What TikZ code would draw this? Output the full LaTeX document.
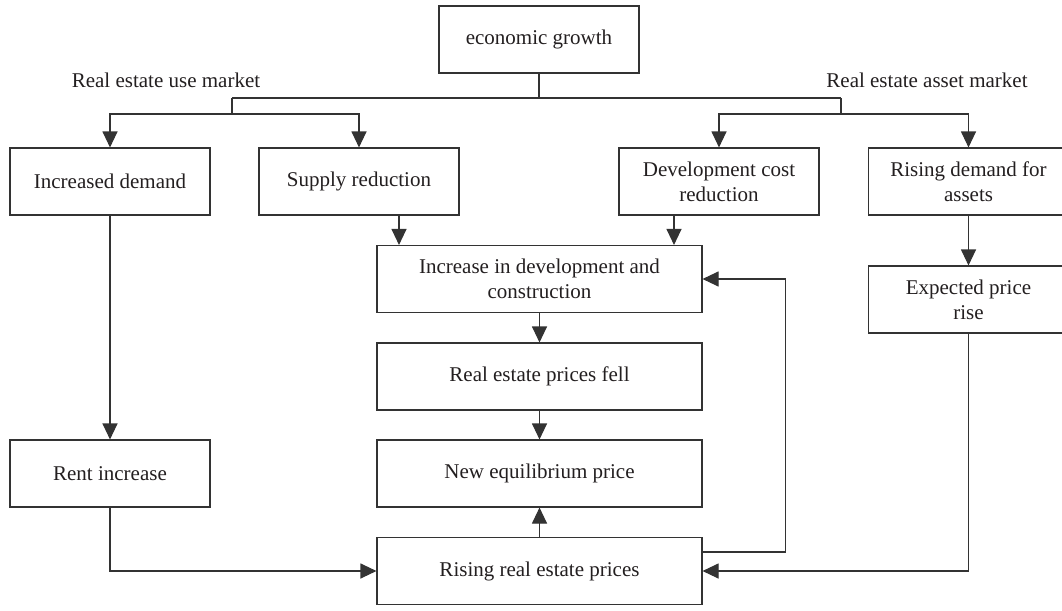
\documentclass[tikz,border=0pt]{standalone}
\usepackage{fontspec}
\setmainfont{Liberation Serif}
\usetikzlibrary{arrows.meta}
\definecolor{linec}{HTML}{333333}
\definecolor{textc}{HTML}{231F20}
\tikzset{
  box/.style={draw=linec, line width=1.1pt, rectangle, inner sep=0pt, minimum width=200pt, minimum height=67pt,
    align=center, text=textc, font=\fontsize{21}{25}\selectfont},
  widebox/.style={box, minimum width=325pt},
  conn/.style={draw=linec, line width=1.1pt},
  arr/.style={conn, -{Triangle[length=16pt,width=15pt]}},
  lbl/.style={text=textc, font=\fontsize{21}{25}\selectfont, inner sep=0pt}
}
\begin{document}
\begin{tikzpicture}[x=1pt,y=-1pt]
\useasboundingbox (0,0) rectangle (1062,610);
\fill[white] (0,0) rectangle (1062,610);
% nodes
\node[box] (econ) at (539,39.5) {economic growth};
\node[lbl] (useL) at (166,80) {Real estate use market};
\node[lbl] (assetL) at (927,80) {Real estate asset market};
\node[box] (idem) at (110,181.5) {Increased demand};
\node[box] (supp) at (359,181.5) {Supply reduction};
\node[box] (dev) at (719,181.5) {Development cost\\reduction};
\node[box] (rda) at (968.5,181.5) {Rising demand for\\assets};
\node[widebox] (inc) at (539.5,279) {Increase in development and\\construction};
\node[widebox] (fell) at (539.5,376.5) {Real estate prices fell};
\node[widebox] (neq) at (539.5,473.5) {New equilibrium price};
\node[widebox] (ris) at (539.5,571) {Rising real estate prices};
\node[box] (rent) at (110,473.5) {Rent increase};
\node[box] (exp) at (968.5,299.5) {Expected price\\rise};
% junctions
\coordinate (jL) at (232,98);
\coordinate (jR) at (841,98);
\coordinate (bL) at (232,114);
\coordinate (bR) at (841,114);
% connectors
\draw[conn] (econ.south) -- (econ.south |- jL);
\draw[conn] (jL) -- (jR);
\draw[conn] (jL) -- (bL);
\draw[conn] (jR) -- (bR);
\draw[arr] (bL) -| (idem.north);
\draw[arr] (bL) -| (supp.north);
\draw[arr] (bR) -| (dev.north);
\draw[arr] (bR) -| (rda.north);
\draw[arr] (idem.south) -- (rent.north);
\draw[arr] (rda.south) -- (exp.north);
\draw[arr] ([xshift=40pt]supp.south) -- ([xshift=40pt]supp.south |- inc.north);
\draw[arr] ([xshift=-45pt]dev.south) -- ([xshift=-45pt]dev.south |- inc.north);
\draw[arr] (inc.south) -- (fell.north);
\draw[arr] (fell.south) -- (neq.north);
\draw[arr] (ris.north) -- (neq.south);
\draw[arr] (rent.south) |- (ris.west);
\draw[arr] (exp.south) |- (ris.east);
\draw[arr] ([yshift=-15pt]ris.north east) -| ([xshift=83pt]inc.east) -- (inc.east);
\end{tikzpicture}
\end{document}
